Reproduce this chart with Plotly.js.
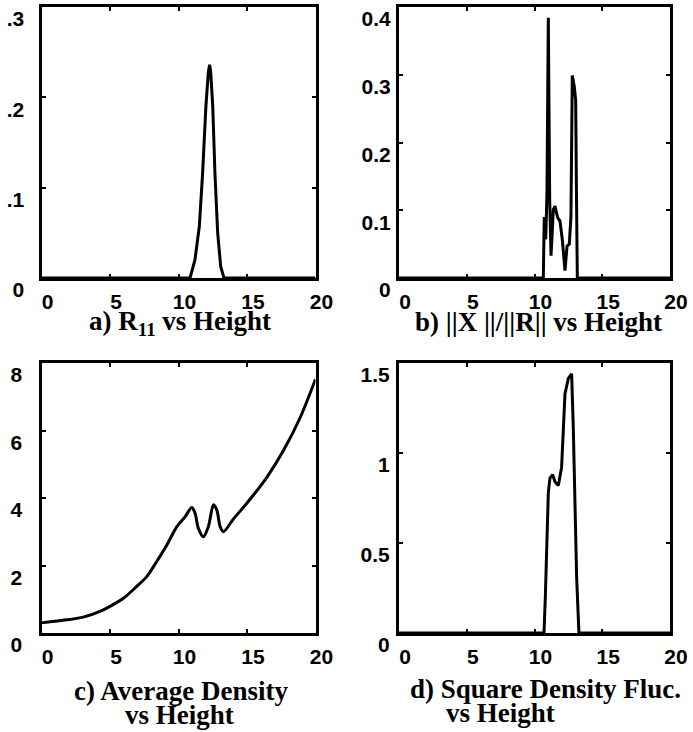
<!DOCTYPE html>
<html>
<head>
<meta charset="utf-8">
<script src="https://cdn.plot.ly/plotly-3.0.1.min.js"></script>
<style>
html,body{margin:0;padding:0;background:#fff;}
#chart{width:693px;height:732px;}
</style>
</head>
<body>
<div id="chart"></div>
<script>
// Panel a: R11 vs Height
const aX = [0, 10.84, 11.2, 11.52, 11.76, 12.0, 12.18, 12.27, 12.35, 12.5, 12.66, 12.86, 13.08, 13.32, 20];
const aY = [0, 0, 0.02, 0.057, 0.116, 0.19, 0.228, 0.236, 0.228, 0.19, 0.116, 0.05, 0.0125, 0, 0];
// Panel b: ||X||/||R|| vs Height
const bX = [0, 10.65, 10.72, 10.83, 10.92, 11.02, 11.12, 11.22, 11.39, 11.51, 11.71, 11.88, 12.05, 12.25, 12.4, 12.57, 12.69, 12.74, 12.79, 12.94, 13.04, 13.09, 13.16, 20];
const bY = [0, 0, 0.09, 0.057, 0.126, 0.384, 0.116, 0.033, 0.101, 0.106, 0.089, 0.084, 0.057, 0.011, 0.047, 0.05, 0.091, 0.213, 0.299, 0.282, 0.262, 0.14, 0, 0];
// Panel c: Average Density vs Height
const cX = [0, 1.83, 3.05, 4.27, 5.0, 5.98, 6.95, 7.68, 8.41, 9.15, 9.88, 10.49, 10.97, 11.21, 11.45, 11.82, 12.18, 12.55, 12.8, 13.04, 13.28, 14.01, 15.0, 16.46, 17.68, 18.9, 20];
const cY = [0.30, 0.39, 0.47, 0.64, 0.79, 1.03, 1.38, 1.67, 2.12, 2.61, 3.15, 3.45, 3.72, 3.55, 3.10, 2.85, 3.15, 3.80, 3.64, 3.15, 3.0, 3.38, 3.85, 4.62, 5.42, 6.40, 7.52];
// Panel d: Square Density Fluc. vs Height
const dX = [0, 10.7, 10.8, 10.9, 11.02, 11.14, 11.34, 11.51, 11.76, 12.0, 12.13, 12.25, 12.5, 12.74, 12.86, 12.99, 13.11, 13.28, 20];
const dY = [0, 0, 0.2, 0.41, 0.78, 0.86, 0.88, 0.84, 0.82, 0.92, 1.15, 1.33, 1.415, 1.44, 1.15, 0.68, 0.31, 0, 0];

const xTicks = [0, 5, 10, 15, 20];
const xTickText = ['0', '5', '10', '15', '20'];
const aTicks = [0, 0.1, 0.2, 0.3];
const aTickText = ['0', '.1', '.2', '.3'];
const bTicks = [0, 0.1, 0.2, 0.3, 0.4];
const bTickText = ['0', '0.1', '0.2', '0.3', '0.4'];
const cTicks = [0, 2, 4, 6, 8];
const cTickText = ['0', '2', '4', '6', '8'];
const dTicks = [0, 0.5, 1, 1.5];
const dTickText = ['0', '0.5', '1', '1.5'];

const titles = {
  a: 'a) R<sub>11</sub> vs Height',
  b: 'b) ||X ||/||R|| vs Height',
  c1: 'c) Average Density', c2: 'vs Height',
  d1: 'd) Square Density Fluc.', d2: 'vs Height'
};

const W = 693, H = 732;
const px = v => v / W;
const py = v => 1 - v / H;

const lineStyle = {color: '#000', width: 3};
const traces = [
  {x: aX, y: aY, xaxis: 'x', yaxis: 'y', mode: 'lines', line: Object.assign({shape: 'linear'}, lineStyle)},
  {x: bX, y: bY, xaxis: 'x2', yaxis: 'y2', mode: 'lines', line: Object.assign({shape: 'linear'}, lineStyle)},
  {x: cX, y: cY, xaxis: 'x3', yaxis: 'y3', mode: 'lines', line: Object.assign({shape: 'spline', smoothing: 0.8}, lineStyle)},
  {x: dX, y: dY, xaxis: 'x4', yaxis: 'y4', mode: 'lines', line: Object.assign({shape: 'linear'}, lineStyle)}
];

const tickFont = {family: 'Liberation Sans, Arial, sans-serif', size: 21, color: '#000', weight: 'bold'};
function xa(domain, anchor) {
  return {domain: domain, anchor: anchor, range: [0, 20], tickmode: 'array', tickvals: xTicks, ticktext: xTickText,
    showline: true, linecolor: '#000', linewidth: 3, mirror: 'ticks', ticks: 'inside', ticklen: 4, tickwidth: 2, tickcolor: '#000',
    showgrid: false, zeroline: false, tickfont: tickFont, ticklabelshift: 6, ticklabelstandoff: 3, fixedrange: true};
}
function ya(domain, anchor, range, vals, text, standoff) {
  return {domain: domain, anchor: anchor, range: range, tickmode: 'array', tickvals: vals, ticktext: text,
    showline: true, linecolor: '#000', linewidth: 3, mirror: 'ticks', ticks: 'inside', ticklen: 4, tickwidth: 2, tickcolor: '#000',
    showgrid: false, zeroline: false, tickfont: tickFont, ticklabelshift: 12, ticklabelstandoff: standoff, fixedrange: true};
}

const leftX = [px(41.5), px(315.5)];
const rightX = [px(399), px(670)];
const topY = [py(278), py(7)];
const botY = [py(633), py(363)];

const titleFont = {family: 'Liberation Serif, Times New Roman, serif', size: 27, color: '#000', weight: 'bold'};
function ann(text, x, y) {
  return {text: '<b>' + text + '</b>', x: px(x), y: py(y), xref: 'paper', yref: 'paper', xanchor: 'center', yanchor: 'middle', showarrow: false, font: titleFont};
}

const layout = {
  width: W, height: H, margin: {l: 0, r: 0, t: 0, b: 0},
  paper_bgcolor: '#fff', plot_bgcolor: '#fff', showlegend: false,
  xaxis: xa(leftX, 'y'),
  yaxis: ya(topY, 'x', [0, 0.3], aTicks, aTickText, 10),
  xaxis2: xa(rightX, 'y2'),
  yaxis2: ya(topY, 'x2', [0, 0.4], bTicks, bTickText, 1),
  xaxis3: xa(leftX, 'y3'),
  yaxis3: ya(botY, 'x3', [0, 8], cTicks, cTickText, 12),
  xaxis4: xa(rightX, 'y4'),
  yaxis4: ya(botY, 'x4', [0, 1.5], dTicks, dTickText, 2),
  annotations: [
    ann(titles.a, 180, 323),
    ann(titles.b, 538, 322),
    ann(titles.c1, 181, 691),
    ann(titles.c2, 179, 715),
    ann(titles.d1, 545, 689),
    ann(titles.d2, 501, 713)
  ]
};

Plotly.newPlot('chart', traces, layout, {displayModeBar: false, staticPlot: true});
</script>
</body>
</html>
